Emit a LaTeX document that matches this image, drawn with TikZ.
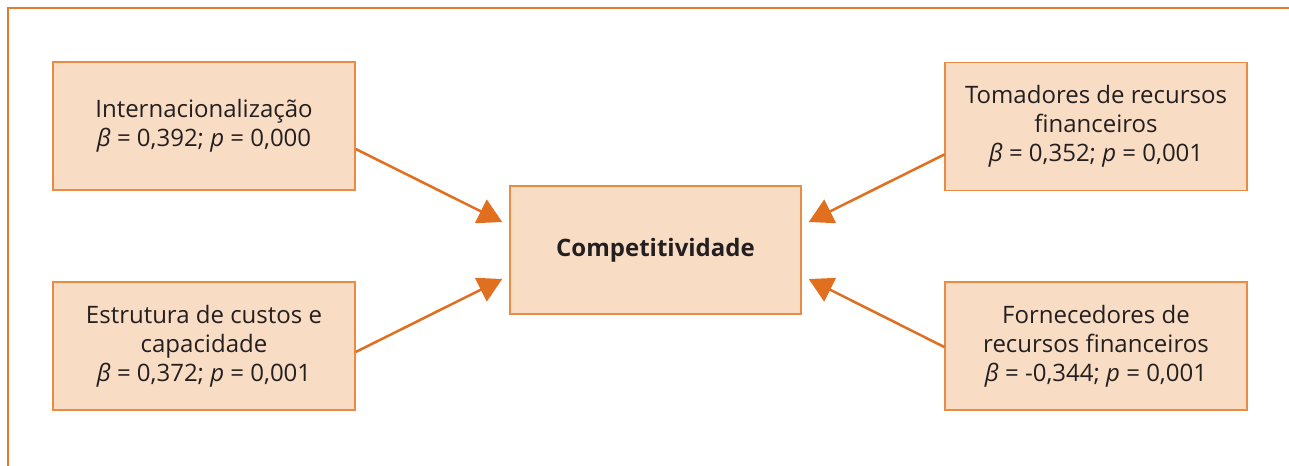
\documentclass[tikz,border=0pt]{standalone}
\usepackage{fontspec}
\setmainfont{Open Sans}
\usetikzlibrary{arrows.meta,calc}
\definecolor{framecol}{HTML}{E37A2E}
\definecolor{boxline}{HTML}{E98B45}
\definecolor{boxfill}{HTML}{F9DCC4}
\definecolor{arrowcol}{HTML}{E07020}
\definecolor{inkcol}{HTML}{231F20}
\tikzset{
  factor/.style={draw=boxline, fill=boxfill, line width=1.1pt,
    minimum width=226.5pt, minimum height=96pt, align=center,
    text=inkcol, inner sep=0pt,
    font=\fontsize{18}{21.6}\selectfont},
  central/.style={factor, minimum width=218.25pt,
    font=\fontsize{18}{21.6}\selectfont\bfseries},
  effect/.style={draw=arrowcol, line width=1.9pt,
    -{Triangle[length=18pt,width=19.5pt]}},
  frameline/.style={draw=framecol, line width=1.5pt}
}
\begin{document}
\begin{tikzpicture}[x=0.75pt,y=-0.75pt]
\useasboundingbox (0,0) rectangle (1289,465);
% outer frame, only its top and left sides fall inside the page
\draw[frameline] (8,480) -- (8,8) -- (1300,8);

\node[factor]  (intl) at (204,126) {Internacionalização\\\textit{β} = 0,392; \textit{p} = 0,000};
\node[factor]  (estr) at (204,346) {Estrutura de custos e\\capacidade\\\textit{β} = 0,372; \textit{p} = 0,001};
\node[central] (comp) at (655.5,250) {Competitividade};
\node[factor]  (toma) at (1096,126.5) {Tomadores de recursos\\financeiros\\\textit{β} = 0,352; \textit{p} = 0,001};
\node[factor]  (forn) at (1096,346) {Fornecedores de\\recursos financeiros\\\textit{β} = -0,344; \textit{p} = 0,001};

\draw[effect] ($(intl.east)+(0,23)$) -- ($(comp.west)+(-7,-28)$);
\draw[effect] ($(estr.east)+(0,6)$) -- ($(comp.west)+(-7,29)$);
\draw[effect] ($(toma.west)+(0,28)$) -- ($(comp.east)+(7,-28)$);
\draw[effect] ($(forn.west)+(0,1)$) -- ($(comp.east)+(7,29)$);
\end{tikzpicture}
\end{document}
